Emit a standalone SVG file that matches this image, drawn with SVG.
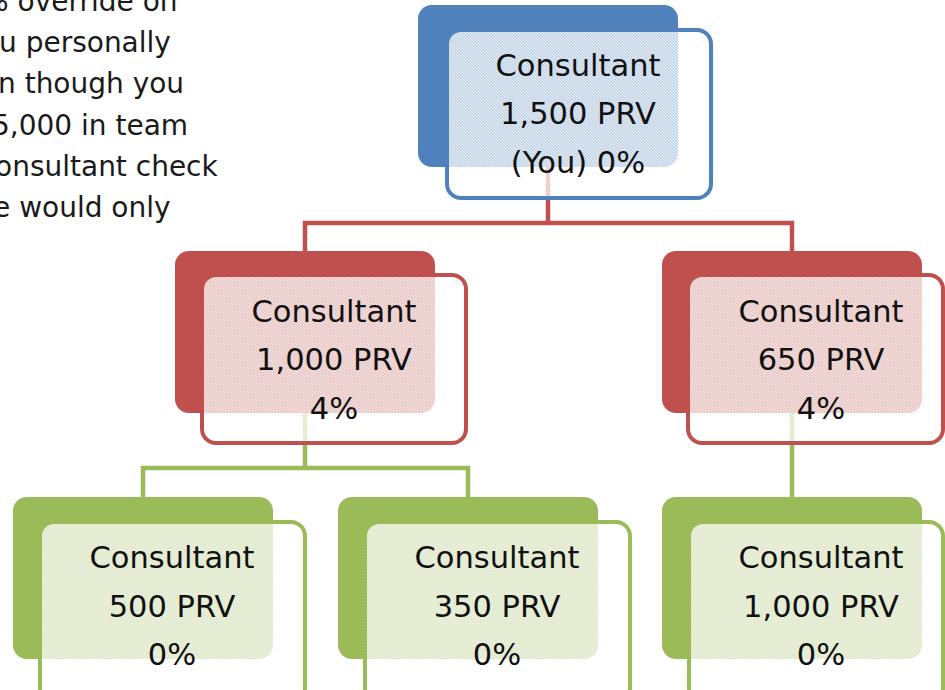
<svg xmlns="http://www.w3.org/2000/svg" width="945" height="690" viewBox="0 0 945 690">
  <defs>
    <pattern id="tex" width="3" height="3" patternUnits="userSpaceOnUse">
      <rect width="3" height="3" fill="#ffffff" fill-opacity="0.68"/>
      <rect x="0" y="0" width="1" height="1" fill="#ffffff" fill-opacity="0.6"/>
      <rect x="1" y="1" width="1" height="1" fill="#ffffff" fill-opacity="0.6"/>
      <rect x="2" y="2" width="1" height="1" fill="#ffffff" fill-opacity="0.6"/>
    </pattern>
  </defs>
  <style>
    .para { font-family: "DejaVu Sans", "Liberation Sans", sans-serif; font-size: 28px; fill: #1a1a1a; }
    .lbl { font-family: "DejaVu Sans", "Liberation Sans", sans-serif; font-size: 30.5px; fill: #111111; text-anchor: middle; }
    .front { fill: url(#tex); stroke-width: 4; }
    .blue .back { fill: #4F81BD; } .blue .front { stroke: #4F81BD; }
    .red .back { fill: #C0504D; } .red .front { stroke: #C0504D; }
    .green .back { fill: #9BBB59; } .green .front { stroke: #9BBB59; }
    .conn { fill: none; stroke-width: 4.5; }
  </style>
  <rect width="945" height="690" fill="#ffffff"/>

  <g id="paragraph">
    <text class="para" x="-18" y="11">% override on</text>
    <text class="para" x="-1" y="52">u personally</text>
    <text class="para" x="-2" y="93">n though you</text>
    <text class="para" x="-8" y="135">5,000 in team</text>
    <text class="para" x="-5" y="176">onsultant check</text>
    <text class="para" x="-7" y="217">e would only</text>
  </g>

  <g id="connectors">
    <path class="conn" stroke="#C0504D" d="M548,160 V223 M305,251 V223 H792 V251"/>
    <path class="conn" stroke="#9BBB59" d="M305,405 V468 M143,497 V468 H468 V497 M792,405 V497"/>
  </g>

  <g id="node-top" class="blue">
    <rect class="back" x="418" y="5" width="260" height="162" rx="14"/>
    <rect class="front" x="447" y="30" width="264" height="168" rx="14"/>
    <text class="lbl" x="578" y="76">Consultant</text>
    <text class="lbl" x="578" y="124">1,500 PRV</text>
    <text class="lbl" x="578" y="173">(You) 0%</text>
  </g>

  <g id="node-mid-left" class="red">
    <rect class="back" x="175" y="251" width="260" height="162" rx="14"/>
    <rect class="front" x="202" y="275" width="264" height="168" rx="14"/>
    <text class="lbl" x="334" y="322">Consultant</text>
    <text class="lbl" x="334" y="370">1,000 PRV</text>
    <text class="lbl" x="334" y="419">4%</text>
  </g>

  <g id="node-mid-right" class="red">
    <rect class="back" x="662" y="251" width="260" height="162" rx="14"/>
    <rect class="front" x="688" y="275" width="255" height="168" rx="14"/>
    <text class="lbl" x="821" y="322">Consultant</text>
    <text class="lbl" x="821" y="370">650 PRV</text>
    <text class="lbl" x="821" y="419">4%</text>
  </g>

  <g id="node-bottom-left" class="green">
    <rect class="back" x="13" y="497" width="260" height="162" rx="14"/>
    <rect class="front" x="40" y="522" width="265" height="180" rx="14"/>
    <text class="lbl" x="172" y="568">Consultant</text>
    <text class="lbl" x="172" y="617">500 PRV</text>
    <text class="lbl" x="172" y="665">0%</text>
  </g>

  <g id="node-bottom-mid" class="green">
    <rect class="back" x="338" y="497" width="260" height="162" rx="14"/>
    <rect class="front" x="365" y="522" width="265" height="180" rx="14"/>
    <text class="lbl" x="497" y="568">Consultant</text>
    <text class="lbl" x="497" y="617">350 PRV</text>
    <text class="lbl" x="497" y="665">0%</text>
  </g>

  <g id="node-bottom-right" class="green">
    <rect class="back" x="662" y="497" width="260" height="162" rx="14"/>
    <rect class="front" x="689" y="522" width="254" height="180" rx="14"/>
    <text class="lbl" x="821" y="568">Consultant</text>
    <text class="lbl" x="821" y="617">1,000 PRV</text>
    <text class="lbl" x="821" y="665">0%</text>
  </g>
</svg>
